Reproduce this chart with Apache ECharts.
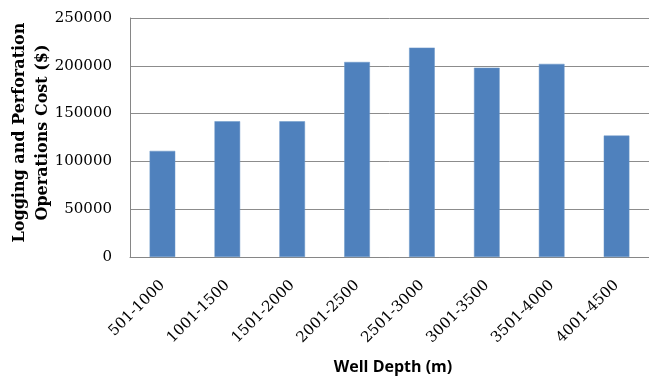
<!DOCTYPE html>
<html>
<head>
<meta charset="utf-8">
<script src="https://cdn.jsdelivr.net/npm/echarts@6/dist/echarts.min.js"></script>
<style>
  html, body { margin: 0; padding: 0; background: #fff; }
  #chart { width: 649px; height: 379px; }
</style>
</head>
<body>
<div id="chart"></div>
<script>
// Depth intervals (m) and the cost of logging and perforation for each
const depthRanges = ['501-1000', '1001-1500', '1501-2000', '2001-2500', '2501-3000', '3001-3500', '3501-4000', '4001-4500'];
const costs = [111000, 142000, 142000, 204000, 219000, 198000, 202000, 127000];
const costTicks = [0, 50000, 100000, 150000, 200000, 250000];

const chart = echarts.init(document.getElementById('chart'), null, { renderer: 'canvas' });

chart.setOption({
  animation: false,
  backgroundColor: '#ffffff',
  grid: { left: 130, right: 0, top: 18, bottom: 122, containLabel: false, outerBoundsMode: 'none' },
  xAxis: {
    type: 'category',
    data: depthRanges,
    name: 'Well Depth (m)',
    nameLocation: 'middle',
    nameGap: 102,
    nameMoveOverlap: false,
    nameTextStyle: { fontFamily: 'Open Sans', fontWeight: 'bold', fontSize: 16, color: '#000', padding: [0, 0, 0, 7] },
    axisLine: { show: true, lineStyle: { color: '#868686', width: 1 } },
    axisTick: { show: false },
    axisLabel: {
      rotate: 45,
      interval: 0,
      margin: 26,
      fontFamily: 'DejaVu Serif',
      fontSize: 15,
      color: '#000'
    }
  },
  yAxis: {
    type: 'value',
    min: costTicks[0],
    max: costTicks[costTicks.length - 1],
    interval: costTicks[1] - costTicks[0],
    name: 'Logging and Perforation\nOperations Cost ($)',
    nameLocation: 'middle',
    nameGap: 76,
    nameMoveOverlap: false,
    nameRotate: 90,
    nameTextStyle: {
      fontFamily: 'DejaVu Serif',
      fontWeight: 'bold',
      fontSize: 16,
      lineHeight: 23,
      color: '#000',
      align: 'center',
      padding: [0, 0, 0, 10]
    },
    axisLine: { show: true, lineStyle: { color: '#868686', width: 1 } },
    axisTick: { show: false },
    splitLine: { show: true, lineStyle: { color: '#8c8c8c', width: 1 } },
    axisLabel: {
      margin: 18,
      formatter: v => String(v),
      fontFamily: 'DejaVu Serif',
      fontSize: 15,
      color: '#000'
    }
  },
  series: [{
    type: 'bar',
    data: costs,
    barWidth: '39.5%',
    itemStyle: { color: '#4f81bd', borderColor: '#6b96c9', borderWidth: 0.5 }
  }]
});
</script>
</body>
</html>
